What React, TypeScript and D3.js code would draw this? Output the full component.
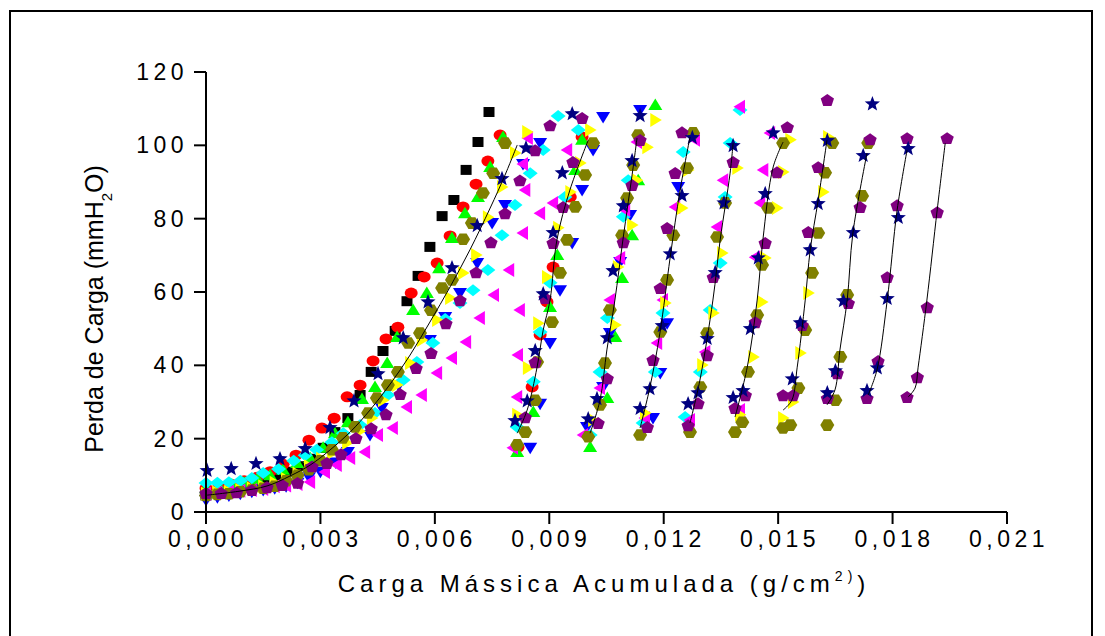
import React from 'react';
import * as d3 from 'd3';

type Pt = [number, number];

// axis ticks
const xTicks = [0, 0.003, 0.006, 0.009, 0.012, 0.015, 0.018, 0.021];
const xTickLabels = ['0,000', '0,003', '0,006', '0,009', '0,012', '0,015', '0,018', '0,021'];
const yTicks = [0, 20, 40, 60, 80, 100, 120];

// series (one per run; later cycles follow the first one in each list)
const blackSquares: Pt[] = [
  [0, 4.5], [0.0003, 5], [0.0006, 5.5], [0.0009, 6.5], [0.00121, 7.5], [0.00152, 8.5], [0.00183, 9.5],
  [0.00214, 11], [0.00245, 12.5], [0.00276, 14.5], [0.00307, 17.5], [0.00338, 21.8], [0.00372, 25.6],
  [0.00404, 31.9], [0.00433, 38.2], [0.00464, 43.9], [0.00496, 49.4], [0.00527, 57.5], [0.00556, 64.4],
  [0.00587, 72.3], [0.00619, 80.7], [0.0065, 85.1], [0.00682, 93.3], [0.00713, 100.9], [0.00742, 109.1],
];

const redCircles: Pt[] = [
  [0, 6.5], [0.00034, 7], [0.00068, 7.5], [0.001, 8.5], [0.00135, 9.5], [0.00168, 11], [0.00202, 13],
  [0.00236, 15.5], [0.0027, 19.6], [0.00304, 22.9], [0.00336, 25.6], [0.0037, 31.4], [0.00404, 34.6],
  [0.00438, 41.2], [0.00472, 47.2], [0.00503, 50.4], [0.00538, 59.7], [0.00572, 64.1], [0.00606, 67.9],
  [0.0064, 75.3], [0.00674, 83.2], [0.00708, 89.4], [0.00739, 95.7], [0.00771, 102.8],
  [0.00818, 17.7], [0.00855, 34.1], [0.00876, 48.3], [0.00894, 57.3], [0.0091, 66.8], [0.00955, 85.9], [0.00986, 102.3],
];

const greenUp: Pt[] = [
  [0, 6.5], [0.00034, 7], [0.00068, 7.5], [0.001, 8], [0.00135, 9], [0.00168, 10], [0.00202, 11.5],
  [0.00239, 13.4], [0.00273, 14.7], [0.00307, 17.5], [0.00338, 21.5], [0.00372, 24.5], [0.00409, 30.8],
  [0.00443, 34.1], [0.00475, 40.6], [0.00501, 47.7], [0.00543, 55.1], [0.00579, 59.7], [0.00611, 66.5],
  [0.00645, 74.7], [0.00679, 81.5], [0.00713, 85.9], [0.00745, 94.1], [0.00779, 102.3],
  [0.00816, 16.4], [0.00858, 27.3], [0.00902, 55.9], [0.00921, 70.1], [0.00968, 93.3], [0.00986, 101.5],
  [0.01007, 17.7], [0.01052, 31.1], [0.01073, 47.7], [0.01091, 63.8], [0.01117, 75.5], [0.01133, 90.5], [0.01178, 111.0],
];

const blueDown: Pt[] = [
  [0, 3.3], [0.0003, 4], [0.0006, 4.5], [0.0009, 5], [0.0012, 5.5], [0.0015, 6], [0.0018, 6.5],
  [0.0021, 7], [0.0024, 8], [0.0027, 9.5], [0.003, 11], [0.0034, 13.5], [0.00372, 16.4], [0.0043, 21],
  [0.00461, 28.4], [0.00505, 34.5], [0.00548, 40], [0.00587, 46.9], [0.00627, 53.2], [0.00666, 59.7],
  [0.00711, 67.9], [0.0075, 78.8], [0.00784, 83.7], [0.00831, 94.9], [0.00876, 100.6],
  [0.0085, 17.5], [0.00876, 29.5], [0.00902, 46.1], [0.00928, 60.5], [0.0096, 73.4], [0.00986, 87.8], [0.01015, 98.7], [0.01041, 107.7],
  [0.00999, 23.2], [0.01041, 34.1], [0.01059, 48.8], [0.01086, 68.2], [0.01112, 81.0], [0.01138, 109.6],
  [0.01172, 25.6], [0.01191, 37.9], [0.01209, 51.5], [0.01238, 88.6],
];

const cyanDiamonds: Pt[] = [
  [0, 7.9], [0.0003, 8], [0.0006, 8.1], [0.0009, 8.5], [0.0012, 9.3], [0.0015, 10.6], [0.0019, 11.7],
  [0.0023, 14], [0.0026, 15.5], [0.0029, 17], [0.0033, 19], [0.0036, 21.5], [0.00404, 23.7], [0.00443, 27],
  [0.00477, 31.9], [0.00517, 36], [0.00553, 40.9], [0.00595, 46.1], [0.00627, 52.6], [0.00666, 57],
  [0.007, 60.5], [0.00739, 66], [0.00776, 75.5], [0.0081, 83.7], [0.0085, 92.4], [0.00884, 98.7],
  [0.00816, 23.2], [0.00858, 35.5], [0.00876, 49.1], [0.00902, 62.5], [0.00941, 85.9], [0.00976, 104.2], [0.00923, 108.0],
  [0.01007, 21.0], [0.01033, 38.2], [0.01052, 52.9], [0.01094, 80.5], [0.01107, 90.5],
  [0.01146, 24.3], [0.01178, 38.2], [0.01198, 54.3], [0.01251, 98.2],
  [0.01256, 25.9], [0.01296, 38.2], [0.01322, 55.1], [0.01348, 67.9], [0.01361, 85.9], [0.01374, 100.6], [0.014, 109.6],
];

const magentaLeft: Pt[] = [
  [0, 5], [0.0003, 5.3], [0.0006, 5.5], [0.0009, 5.8], [0.0012, 6], [0.0015, 6.3], [0.0018, 7],
  [0.0021, 7.2], [0.0024, 7.6], [0.00273, 8.2], [0.00312, 10.9], [0.00343, 12.8], [0.00378, 14.7],
  [0.00417, 16.4], [0.00451, 21], [0.0049, 22.9], [0.00527, 28.6], [0.00566, 31.9], [0.00606, 37.9],
  [0.00645, 42], [0.00682, 46.4], [0.00718, 52.9], [0.00755, 59.2], [0.00795, 66], [0.00876, 81.5],
  [0.0091, 84.3], [0.00947, 98.7],
  [0.00805, 17.5], [0.00816, 31.4], [0.00818, 42.8], [0.00823, 55.1], [0.00831, 76.1], [0.00837, 87.8], [0.00831, 94.9], [0.00844, 102.0],
  [0.00989, 21.0], [0.01033, 33.8], [0.01059, 57.8], [0.01086, 69.3], [0.01099, 82.4], [0.0113, 100.9],
  [0.01151, 25.6], [0.01183, 46.1], [0.01198, 57.8], [0.0123, 83.2], [0.01282, 101.5],
  [0.01269, 25.1], [0.01309, 43.6], [0.0134, 77.7], [0.01356, 90.5], [0.014, 110.5],
  [0.014, 27.8], [0.0144, 69.5], [0.01453, 84.3], [0.01461, 93.3], [0.01479, 103.4],
];

const yellowRight: Pt[] = [
  [0, 5], [0.0003, 5.3], [0.0006, 5.5], [0.0009, 6], [0.0012, 6.5], [0.0015, 7], [0.0018, 8],
  [0.0021, 9], [0.0024, 10.5], [0.0027, 12.5], [0.00302, 14.5], [0.0033, 16.1], [0.0037, 18.8],
  [0.00403, 22], [0.00435, 25.6], [0.00464, 30.5], [0.00501, 34.6], [0.00535, 40.6], [0.00566, 46.9],
  [0.00606, 52.4], [0.0064, 58.4], [0.00674, 65.2], [0.00708, 70.1], [0.00739, 80.4], [0.00776, 88.6],
  [0.0081, 97.9], [0.00842, 103.6],
  [0.00816, 26.5], [0.00844, 39.3], [0.00871, 51.5], [0.00894, 64.1], [0.00923, 77.5], [0.00955, 87.3], [0.00981, 95.2], [0.01007, 104.2],
  [0.01015, 25.1], [0.01073, 51.0], [0.0108, 66.8], [0.01117, 78.3], [0.0113, 90.5], [0.01157, 99.5], [0.01178, 106.9],
  [0.01151, 27.0], [0.01204, 57.0], [0.01248, 82.9], [0.01264, 93.3],
  [0.01301, 40.1], [0.0133, 54.3], [0.01353, 70.6], [0.01393, 93.8],
  [0.014, 26.5], [0.01435, 42.3], [0.01458, 57.3], [0.01466, 69.3], [0.01497, 82.9], [0.01513, 92.7], [0.01532, 101.5],
  [0.01513, 25.6], [0.01539, 30.0], [0.01558, 43.4], [0.01579, 59.7], [0.01618, 87.3], [0.01631, 102.3],
];

const oliveHex: Pt[] = [
  [0, 4.5], [0.0003, 4.8], [0.0006, 5], [0.0009, 5.5], [0.0012, 6], [0.0015, 6.5], [0.0018, 7],
  [0.0021, 8.5], [0.0024, 10], [0.0027, 11.5], [0.003, 14], [0.0033, 17], [0.00359, 20.2], [0.00391, 23.2],
  [0.00425, 27], [0.00448, 31.1], [0.00477, 34.6], [0.00503, 38.2], [0.0053, 46.1], [0.00561, 48.8],
  [0.0059, 55], [0.00619, 61.1], [0.00645, 63.3], [0.00674, 74.4], [0.00697, 78.8], [0.00726, 87],
  [0.00753, 92.4], [0.00784, 100.6],
  [0.00816, 18.3], [0.00837, 21.8], [0.00863, 30.5], [0.00868, 40.9], [0.00907, 51.8], [0.00928, 65.2], [0.00947, 74.2], [0.00968, 83.2], [0.00994, 91.9], [0.01015, 100.6],
  [0.01002, 20.5], [0.01033, 29.2], [0.01046, 40.6], [0.01059, 55.1], [0.01091, 75.5], [0.01104, 85.6], [0.0112, 94.6], [0.01133, 102.8],
  [0.01138, 21.0], [0.01191, 49.1], [0.01209, 63.3], [0.01225, 75.5], [0.01261, 93.8], [0.01277, 103.4],
  [0.01269, 21.8], [0.01296, 34.1], [0.01314, 48.8], [0.0134, 75.0], [0.01361, 84.3],
  [0.01387, 21.8], [0.01406, 24.5], [0.01421, 38.2], [0.01445, 53.7], [0.01458, 67.4], [0.01474, 82.9], [0.01513, 100.6],
  [0.01513, 22.9], [0.01532, 23.7], [0.01553, 33.8], [0.01571, 49.6], [0.01589, 65.2], [0.01605, 76.1], [0.01623, 92.5], [0.01642, 100.6],
  [0.01629, 23.7], [0.0165, 30.5], [0.01663, 42.3], [0.01681, 59.2], [0.0172, 86.2], [0.01736, 100.6],
];

const purplePent: Pt[] = [
  [0, 5.2], [0.0004, 5.2], [0.0008, 5.4], [0.0012, 6], [0.0016, 6.8], [0.002, 7.4], [0.0024, 8],
  [0.00278, 12.5], [0.00317, 13.4], [0.00354, 15.8], [0.00393, 20.2], [0.00433, 22.9], [0.00472, 26.7],
  [0.00509, 32.2], [0.00551, 39.3], [0.0059, 43.4], [0.00629, 51.5], [0.00666, 57.8], [0.00708, 65.4],
  [0.00747, 73.6], [0.00784, 81.5], [0.00823, 90.5], [0.00863, 98.7], [0.00902, 105.5],
  [0.00837, 25.9], [0.00863, 40.9], [0.00889, 58.4], [0.0091, 73.4], [0.00936, 83.2], [0.00962, 95.5], [0.00986, 107.5],
  [0.01028, 24.3], [0.01052, 36.5], [0.01094, 73.6], [0.01117, 89.2], [0.01138, 101.5],
  [0.01157, 23.2], [0.01172, 41.5], [0.01191, 61.1], [0.01209, 77.5], [0.0123, 92.5], [0.01248, 103.6],
  [0.01264, 23.7], [0.0129, 29.7], [0.01314, 42.8], [0.0133, 64.1], [0.01382, 95.5],
  [0.01387, 28.4], [0.01414, 31.9], [0.0144, 51.8], [0.01466, 73.4], [0.01497, 92.7], [0.01524, 105.0],
  [0.01513, 31.9], [0.01539, 31.9], [0.01563, 51.0], [0.01579, 76.4], [0.01605, 94.1], [0.01629, 112.4],
  [0.01629, 31.1], [0.01655, 37.9], [0.01684, 57.0], [0.01715, 83.2], [0.01741, 101.7],
  [0.01733, 31.1], [0.01762, 41.2], [0.01786, 64.1], [0.01812, 83.7], [0.01838, 102.0],
  [0.01838, 31.4], [0.01865, 36.8], [0.01891, 55.9], [0.01917, 81.8], [0.01943, 102.0],
];

const navyStars: Pt[] = [
  [0.00003, 11.5], [0.00066, 12], [0.00131, 13.4], [0.00194, 14.7], [0.0026, 17.5], [0.00325, 23.2],
  [0.00388, 30.5], [0.00451, 37.9], [0.00517, 47.7], [0.00582, 57.5], [0.00645, 66.8], [0.00711, 78.3],
  [0.00776, 91.1], [0.00839, 99.5],
  [0.0081, 25.1], [0.00842, 30.5], [0.00863, 44.2], [0.00884, 59.7], [0.0091, 76.4], [0.00934, 92.7], [0.0096, 108.8],
  [0.01002, 25.6], [0.01025, 31.1], [0.01052, 47.7], [0.01067, 66.0], [0.01094, 83.7], [0.01117, 96.0], [0.01138, 108.3],
  [0.01138, 28.4], [0.01164, 33.8], [0.01196, 51.0], [0.01217, 70.6], [0.01248, 86.5], [0.01275, 102.3],
  [0.01264, 29.7], [0.0129, 32.7], [0.01314, 47.5], [0.01335, 65.5], [0.01358, 84.5], [0.01382, 100.1],
  [0.01382, 31.4], [0.01408, 33.3], [0.01427, 50.2], [0.01448, 69.5], [0.01466, 87.0], [0.01487, 103.6],
  [0.01537, 36.5], [0.01558, 51.8], [0.01584, 71.7], [0.01605, 84.3], [0.01629, 101.5],
  [0.01629, 32.7], [0.0165, 38.7], [0.01671, 57.8], [0.01697, 76.4], [0.01723, 97.4], [0.01747, 111.5],
  [0.01733, 33.3], [0.0176, 39.5], [0.01786, 58.4], [0.01815, 80.5], [0.01841, 99.3],
];

// fitted curves, one per cycle
const fitLines: Pt[][] = [
  [[0.00003, 4.6], [0.00089, 5.7], [0.0016, 7.1], [0.0022, 9.8], [0.00273, 12.8], [0.00325, 16.9], [0.00378, 21.8],
    [0.0043, 27.8], [0.00483, 34.9], [0.00535, 42.8], [0.00587, 51.8], [0.0064, 61.4], [0.00692, 71.5],
    [0.00745, 82.9], [0.00784, 91.9], [0.00816, 100.1]],
  [[0.00816, 21.5], [0.00842, 27.8], [0.00868, 39.5], [0.00884, 49.6], [0.00902, 57.8], [0.0092, 74.2], [0.00954, 87.8], [0.01002, 101.4]],
  [[0.01007, 21.5], [0.01033, 30.5], [0.01051, 44.2], [0.01072, 57.8], [0.01093, 74.2], [0.0112, 94.1], [0.0113, 102]],
  [[0.01138, 22.9], [0.01164, 34.1], [0.0119, 48.8], [0.01217, 69.5], [0.01243, 87.8], [0.01269, 102.3]],
  [[0.01269, 24.3], [0.01295, 36], [0.01329, 57.8], [0.01348, 74.2], [0.01374, 92.4], [0.01382, 100.6]],
  [[0.01387, 25.9], [0.01419, 39.5], [0.01445, 57.8], [0.0146, 74.2], [0.01487, 94.1], [0.01513, 100.9]],
  [[0.01513, 27.8], [0.01536, 30.5], [0.0155, 39.5], [0.01571, 57.8], [0.01584, 71.4], [0.01605, 85.1], [0.01628, 101.4]],
  [[0.01628, 29.2], [0.01649, 33.3], [0.01662, 44.2], [0.01681, 57.8], [0.01696, 76.1], [0.01733, 97.9]],
  [[0.01736, 31.9], [0.01759, 38.7], [0.01786, 57.8], [0.01812, 82.4], [0.01838, 98.7]],
  [[0.01841, 31.4], [0.01859, 33.8], [0.01867, 39.5], [0.0189, 57.8], [0.01917, 82.4], [0.01938, 100.6]],
];

const W = 1105;
const H = 636;
const FONT = '"Liberation Sans", Arial, sans-serif';

const x = d3.scaleLinear().domain([0, 0.021]).range([206, 1007]);
const y = d3.scaleLinear().domain([0, 120]).range([512, 72]);

type Kind = 'square' | 'circle' | 'up' | 'down' | 'diamond' | 'left' | 'right' | 'hex' | 'pent' | 'star';

const shape = (k: Kind, cx: number, cy: number): string => {
  const poly = (pts: Pt[]) => 'M' + pts.map((p) => `${ (cx + p[0]).toFixed(1) },${ (cy + p[1]).toFixed(1) }`).join('L') + 'Z';
  switch (k) {
    case 'square': return poly([[-5.5, -5], [5.5, -5], [5.5, 5], [-5.5, 5]]);
    case 'circle': return `M${ cx - 6.5 },${ cy }a6.5,5.5 0 1,0 13,0a6.5,5.5 0 1,0 -13,0Z`;
    case 'up': return poly([[0, -6.5], [7, 5], [-7, 5]]);
    case 'down': return poly([[-7, -5], [7, -5], [0, 6.5]]);
    case 'diamond': return poly([[0, -6], [7.5, 0], [0, 6], [-7.5, 0]]);
    case 'left': return poly([[-6.5, 0], [5, -7], [5, 7]]);
    case 'right': return poly([[6.5, 0], [-5, -7], [-5, 7]]);
    case 'hex': return poly([[-7, 0], [-3.5, -5.8], [3.5, -5.8], [7, 0], [3.5, 5.8], [-3.5, 5.8]]);
    case 'pent': {
      const pts: Pt[] = d3.range(5).map((i) => {
        const a = -Math.PI / 2 + (i * 2 * Math.PI) / 5;
        return [Math.cos(a) * 7, Math.sin(a) * 6.6 + 0.8];
      });
      return poly(pts);
    }
    default: {
      const pts: Pt[] = d3.range(10).map((i) => {
        const a = -Math.PI / 2 + (i * Math.PI) / 5;
        const r = i % 2 === 0 ? 8 : 3.4;
        return [Math.cos(a) * r, Math.sin(a) * r + 0.8];
      });
      return poly(pts);
    }
  }
};

const series: { data: Pt[]; kind: Kind; color: string }[] = [
  { data: blackSquares, kind: 'square', color: '#000000' },
  { data: redCircles, kind: 'circle', color: '#ff0000' },
  { data: greenUp, kind: 'up', color: '#00ff00' },
  { data: blueDown, kind: 'down', color: '#0000ff' },
  { data: cyanDiamonds, kind: 'diamond', color: '#00ffff' },
  { data: magentaLeft, kind: 'left', color: '#ff00ff' },
  { data: yellowRight, kind: 'right', color: '#ffff00' },
  { data: oliveHex, kind: 'hex', color: '#808000' },
  { data: purplePent, kind: 'pent', color: '#800080' },
  { data: navyStars, kind: 'star', color: '#000080' },
];

const lineGen = d3.line<Pt>()
  .x((d) => x(d[0]))
  .y((d) => y(d[1]))
  .curve(d3.curveCatmullRom);

const App = () => {
  const tick = 12;
  return (
    <svg width={ W } height={ H } style={ { position: 'absolute', left: 0, top: 0, background: '#fff' } }
      fontFamily={ FONT }>
      <rect x={ 0 } y={ 0 } width={ W } height={ H } fill="#fff"/>
      <path d={ `M10,${ H }V11H1092V${ H }` } fill="none" stroke="#000" strokeWidth={ 2 }/>

      {series.map((s) => (
        <g key={ s.kind } fill={ s.color }>
          {s.data.map((d, i) => <path key={ i } d={ shape(s.kind, x(d[0]), y(d[1])) }/>)}
        </g>
      ))}

      <g fill="none" stroke="#000" strokeWidth={ 1 }>
        {fitLines.map((l, i) => <path key={ i } d={ lineGen(l) ?? '' }/>)}
      </g>

      {/* axes */}
      <g stroke="#000" strokeWidth={ 2 }>
        <line x1={ x(0) } x2={ x(0) } y1={ y(120) } y2={ y(0) }/>
        {yTicks.map((t) => <line key={ t } x1={ x(0) - tick } x2={ x(0) } y1={ y(t) } y2={ y(t) }/>)}
        <line x1={ x(0) } x2={ x(0.021) } y1={ y(0) } y2={ y(0) }/>
        {xTicks.map((t) => <line key={ t } x1={ x(t) } x2={ x(t) } y1={ y(0) } y2={ y(0) + tick }/>)}
      </g>
      <g fontSize={ 23 } fill="#000" letterSpacing={ 4.5 }>
        {yTicks.map((t) => (
          <text key={ t } x={ x(0) - 18 } y={ y(t) + 8 } textAnchor="end">{t}</text>
        ))}
        {xTicks.map((t, i) => (
          <text key={ t } x={ x(t) + 2 } y={ y(0) + 35 } textAnchor="middle">{xTickLabels[i]}</text>
        ))}
      </g>

      <text transform={ `translate(103,309) rotate(-90)` } textAnchor="middle" fontSize={ 25 } fill="#000">
        Perda de Carga (mmH<tspan fontSize={ 15 } dy={ 9 }>2</tspan><tspan dy={ -9 }>O)</tspan>
      </text>
      <text x={ 604 } y={ 592 } textAnchor="middle" fontSize={ 24 } letterSpacing={ 5 } fill="#000">
        Carga Mássica Acumulada (g/cm<tspan fontSize={ 14 } dy={ -11 }>2)</tspan><tspan dy={ 11 }>)</tspan>
      </text>
    </svg>
  );
};

export default App;
